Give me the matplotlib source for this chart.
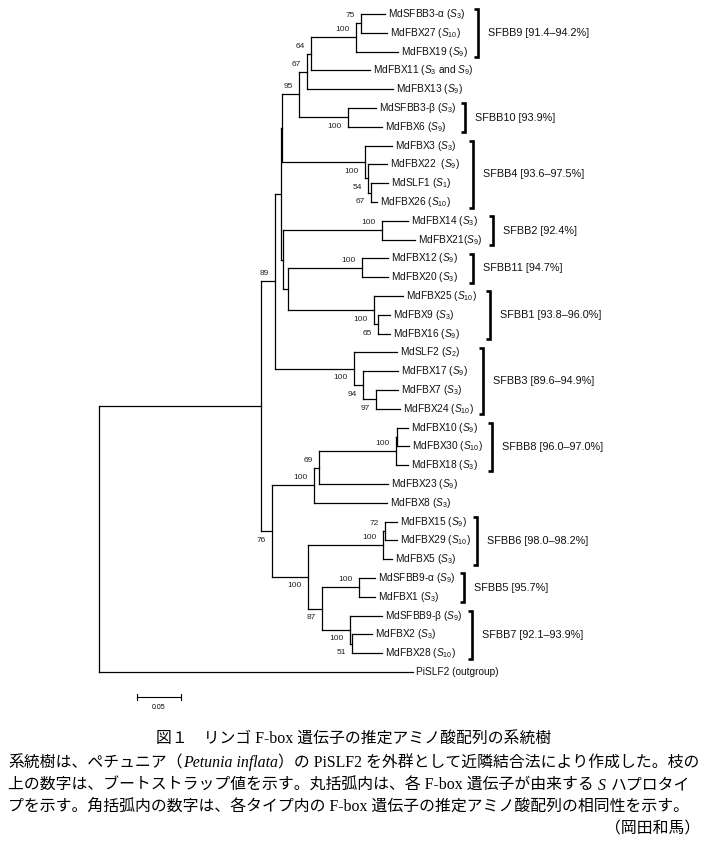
import matplotlib
matplotlib.use('Agg')
import matplotlib.pyplot as plt
from matplotlib.collections import LineCollection

plt.rcParams['font.family'] = ['Liberation Sans', 'DejaVu Sans']
plt.rcParams['mathtext.fontset'] = 'custom'
plt.rcParams['mathtext.rm'] = 'Liberation Sans'
plt.rcParams['mathtext.it'] = 'Liberation Sans:italic'
plt.rcParams['mathtext.bf'] = 'Liberation Sans:bold'

# ===========================
# DATA (tree topology, branch lengths, bootstrap values)
# ===========================

CLADES = {
    'root': ['A', 'PiSLF2'],
    'A': ['B', 'C'],
    'B': ['Q', 'SFBB3'],
    'Q': ['P', 'R'],
    'P': ['N95', 'SFBB4'],
    'N95': ['N67', 'SFBB10'],
    'N67': ['N64', 'MdFBX13'],
    'N64': ['N100', 'MdFBX11'],
    'N100': ['N75', 'MdFBX19'],
    'N75': ['MdSFBB3-α', 'MdFBX27'],
    'SFBB10': ['MdSFBB3-β', 'MdFBX6'],
    'SFBB4': ['MdFBX3', 'n4a'],
    'n4a': ['MdFBX22', 'n4b'],
    'n4b': ['MdSLF1', 'MdFBX26'],
    'R': ['SFBB2', 'S'],
    'SFBB2': ['MdFBX14', 'MdFBX21'],
    'S': ['SFBB11', 'SFBB1'],
    'SFBB11': ['MdFBX12', 'MdFBX20'],
    'SFBB1': ['MdFBX25', 'n1a'],
    'n1a': ['MdFBX9', 'MdFBX16'],
    'SFBB3': ['MdSLF2', 'n3a'],
    'n3a': ['MdFBX17', 'n3b'],
    'n3b': ['MdFBX7', 'MdFBX24'],
    'C': ['D', 'H'],
    'D': ['E', 'MdFBX8'],
    'E': ['SFBB8', 'MdFBX23'],
    'SFBB8': ['n8a', 'MdFBX18'],
    'n8a': ['MdFBX10', 'MdFBX30'],
    'H': ['SFBB6', 'K'],
    'SFBB6': ['n6a', 'MdFBX5'],
    'n6a': ['MdFBX15', 'MdFBX29'],
    'K': ['SFBB5', 'SFBB7'],
    'SFBB5': ['MdSFBB9-α', 'MdFBX1'],
    'SFBB7': ['MdSFBB9-β', 'n7a'],
    'n7a': ['MdFBX2', 'MdFBX28'],
}

BRANCH_LEN = {
    'A': 0.1841, 'PiSLF2': 0.3568, 'B': 0.0159, 'C': 0.0125,
    'Q': 0.0068, 'SFBB3': 0.0898, 'P': 0.0011, 'R': 0.0023,
    'N95': 0.0193, 'SFBB4': 0.0943, 'N67': 0.0091, 'SFBB10': 0.0557,
    'N64': 0.0045, 'MdFBX13': 0.0977, 'N100': 0.0511, 'MdFBX11': 0.0670,
    'N75': 0.0057, 'MdFBX19': 0.0477, 'MdSFBB3-α': 0.0273, 'MdFBX27': 0.0295,
    'MdSFBB3-β': 0.0318, 'MdFBX6': 0.0386,
    'MdFBX3': 0.0307, 'n4a': 0.0034, 'MdFBX22': 0.0216, 'n4b': 0.0034,
    'MdSLF1': 0.0193, 'MdFBX26': 0.0068,
    'SFBB2': 0.1125, 'S': 0.0057, 'MdFBX14': 0.0295, 'MdFBX21': 0.0375,
    'SFBB11': 0.0841, 'SFBB1': 0.0977, 'MdFBX12': 0.0295, 'MdFBX20': 0.0295,
    'MdFBX25': 0.0330, 'n1a': 0.0045, 'MdFBX9': 0.0136, 'MdFBX16': 0.0136,
    'MdSLF2': 0.0489, 'n3a': 0.0102, 'MdFBX17': 0.0398, 'n3b': 0.0148,
    'MdFBX7': 0.0250, 'MdFBX24': 0.0273,
    'D': 0.0477, 'H': 0.0409, 'E': 0.0057, 'MdFBX8': 0.0830,
    'SFBB8': 0.0875, 'MdFBX23': 0.0784, 'n8a': 0.0011, 'MdFBX18': 0.0136,
    'MdFBX10': 0.0125, 'MdFBX30': 0.0136,
    'SFBB6': 0.0852, 'K': 0.0159, 'n6a': 0.0023, 'MdFBX5': 0.0102,
    'MdFBX15': 0.0136, 'MdFBX29': 0.0136,
    'SFBB5': 0.0420, 'SFBB7': 0.0318, 'MdSFBB9-α': 0.0182, 'MdFBX1': 0.0182,
    'MdSFBB9-β': 0.0364, 'n7a': 0.0023, 'MdFBX2': 0.0227, 'MdFBX28': 0.0341,
}

BOOTSTRAP = {
    'N75': 75, 'N100': 100, 'N64': 64, 'N67': 67, 'N95': 95,
    'SFBB10': 100, 'SFBB4': 100, 'n4a': 54, 'n4b': 67,
    'SFBB2': 100, 'SFBB11': 100, 'SFBB1': 100, 'n1a': 65,
    'B': 89, 'SFBB3': 100, 'n3a': 94, 'n3b': 97,
    'SFBB8': 100, 'E': 69, 'D': 100, 'C': 76,
    'H': 100, 'n6a': 72, 'SFBB6': 100, 'SFBB5': 100,
    'K': 87, 'SFBB7': 100, 'n7a': 51,
}

# S haplotypes of each gene
HAPLOTYPE = {
    'MdSFBB3-α': ['3'], 'MdFBX27': ['10'], 'MdFBX19': ['9'],
    'MdFBX11': ['3', '9'], 'MdFBX13': ['9'], 'MdSFBB3-β': ['3'],
    'MdFBX6': ['9'], 'MdFBX3': ['3'], 'MdFBX22': ['9'], 'MdSLF1': ['1'],
    'MdFBX26': ['10'], 'MdFBX14': ['3'], 'MdFBX21': ['9'], 'MdFBX12': ['9'],
    'MdFBX20': ['3'], 'MdFBX25': ['10'], 'MdFBX9': ['3'], 'MdFBX16': ['9'],
    'MdSLF2': ['2'], 'MdFBX17': ['9'], 'MdFBX7': ['3'], 'MdFBX24': ['10'],
    'MdFBX10': ['9'], 'MdFBX30': ['10'], 'MdFBX18': ['3'], 'MdFBX23': ['9'],
    'MdFBX8': ['3'], 'MdFBX15': ['9'], 'MdFBX29': ['10'], 'MdFBX5': ['3'],
    'MdSFBB9-α': ['9'], 'MdFBX1': ['3'], 'MdSFBB9-β': ['9'], 'MdFBX2': ['3'],
    'MdFBX28': ['10'],
}

GROUP_NAMES = ['SFBB9', 'SFBB10', 'SFBB4', 'SFBB2', 'SFBB11', 'SFBB1',
               'SFBB3', 'SFBB8', 'SFBB6', 'SFBB5', 'SFBB7']
GROUP_IDENTITY = ['91.4–94.2%', '93.9%', '93.6–97.5%', '92.4%', '94.7%',
                  '93.8–96.0%', '89.6–94.9%', '96.0–97.0%', '98.0–98.2%',
                  '95.7%', '92.1–93.9%']
GROUP_LEAVES = [('MdSFBB3-α', 'MdFBX19'), ('MdSFBB3-β', 'MdFBX6'),
                ('MdFBX3', 'MdFBX26'), ('MdFBX14', 'MdFBX21'),
                ('MdFBX12', 'MdFBX20'), ('MdFBX25', 'MdFBX16'),
                ('MdSLF2', 'MdFBX24'), ('MdFBX10', 'MdFBX18'),
                ('MdFBX15', 'MdFBX5'), ('MdSFBB9-α', 'MdFBX1'),
                ('MdSFBB9-β', 'MdFBX28')]

SCALE_LEN = 0.05

TITLE = '図１　リンゴ F-box 遺伝子の推定アミノ酸配列の系統樹'
CAPTION = [
    [('系統樹は、ペチュニア（', False), ('Petunia inflata', True),
     ('）の PiSLF2 を外群として近隣結合法により作成した。枝の', False)],
    [('上の数字は、ブートストラップ値を示す。丸括弧内は、各 F-box 遺伝子が由来する ', False),
     ('S', True), (' ハプロタイ', False)],
    [('プを示す。角括弧内の数字は、各タイプ内の F-box 遺伝子の推定アミノ酸配列の相同性を示す。', False)],
]
AUTHOR = '（岡田和馬）'

# ===========================
# LAYOUT
# ===========================

W, H = 705, 844
PX_PER_UNIT = 880          # 0.05 -> 44 px
ROOT_PX = 99
LEAF_TOP_PX, LEAF_STEP_PX = 14, 18.8
BRACKET_PX = [478, 465, 473, 493, 473, 490, 483, 492, 477, 464, 472]
BOOT_BELOW = {'SFBB10', 'SFBB4', 'n4a', 'n4b', 'SFBB1', 'n1a', 'SFBB3',
              'n3a', 'n3b', 'C', 'H', 'K', 'SFBB7', 'n7a'}
LABEL_SEP = {'MdFBX22': '  ', 'MdFBX21': ''}
CJK = ['Liberation Serif', 'Noto Sans CJK JP']

xpos, ypos, leaf_order = {}, {}, []


def layout(node, x):
    xpos[node] = x
    if node in CLADES:
        kids = CLADES[node]
        for k in kids:
            layout(k, x + BRANCH_LEN[k])
        ypos[node] = (ypos[kids[0]] + ypos[kids[-1]]) / 2
    else:
        ypos[node] = len(leaf_order)
        leaf_order.append(node)


layout('root', 0.0)

fig = plt.figure(figsize=(W / 100, H / 100), dpi=100)
ax = fig.add_axes([0, 0, 1, 1])
ax.set_xlim(-ROOT_PX / PX_PER_UNIT, (W - ROOT_PX) / PX_PER_UNIT)
ax.set_ylim((H - LEAF_TOP_PX) / LEAF_STEP_PX, -LEAF_TOP_PX / LEAF_STEP_PX)
ax.axis('off')

# branches
segs = []
for node, kids in CLADES.items():
    segs.append([(xpos[node], ypos[kids[0]]), (xpos[node], ypos[kids[-1]])])
    for k in kids:
        segs.append([(xpos[node], ypos[k]), (xpos[k], ypos[k])])
ax.add_collection(LineCollection(segs, colors='black', linewidths=0.9,
                                 capstyle='projecting'))

# leaf labels
for leaf in leaf_order:
    if leaf in HAPLOTYPE:
        hap = ' and '.join(f'$S_{{{s}}}$' for s in HAPLOTYPE[leaf])
        txt = f'{leaf}{LABEL_SEP.get(leaf, " ")}({hap})'
    else:
        txt = f'{leaf} (outgroup)'
    ax.annotate(txt, (xpos[leaf], ypos[leaf]), xytext=(2.2, 0),
                textcoords='offset points', ha='left', va='center',
                fontsize=7.3, color='#111')

# bootstrap values
for node, val in BOOTSTRAP.items():
    dy = -6.5 if node in BOOT_BELOW else 5.4
    ax.annotate(str(val), (xpos[node], ypos[node]), xytext=(-4.3, dy),
                textcoords='offset points', ha='right', va='center',
                fontsize=6, color='#222')

# group brackets
tick = 4 / PX_PER_UNIT
for name, ident, (a, b), bx in zip(GROUP_NAMES, GROUP_IDENTITY,
                                   GROUP_LEAVES, BRACKET_PX):
    x = (bx - ROOT_PX) / PX_PER_UNIT
    y0, y1 = ypos[a] - 0.25, ypos[b] + 0.3
    ax.plot([x - tick, x, x, x - tick], [y0, y0, y1, y1], color='black',
            lw=1.9, solid_joinstyle='miter', solid_capstyle='butt')
    ax.text(x + 10 / PX_PER_UNIT, (y0 + y1) / 2, f'{name} [{ident}]',
            ha='left', va='center', fontsize=7.8, color='#111')

# scale bar
sy = (697 - LEAF_TOP_PX) / LEAF_STEP_PX
sx0 = (137 - ROOT_PX) / PX_PER_UNIT
ax.plot([sx0, sx0 + SCALE_LEN], [sy, sy], color='black', lw=0.8)
for xx in (sx0, sx0 + SCALE_LEN):
    ax.plot([xx, xx], [sy - 0.15, sy + 0.15], color='black', lw=0.8)
ax.text(sx0 + SCALE_LEN / 2, sy + 0.55, f'{SCALE_LEN}', ha='center',
        va='center', fontsize=5)

# caption
renderer = fig.canvas.get_renderer()
CAP_SIZE = 11.4
gap = CAP_SIZE * 0.28 * 100 / 72


def draw_runs(x_px, y_px, runs):
    x = x_px
    for txt, italic in runs:
        if txt.startswith(' '):
            x += gap
        t = fig.text(x / W, 1 - y_px / H, txt.strip(), family=CJK,
                     style='italic' if italic else 'normal',
                     fontsize=CAP_SIZE, ha='left', va='center')
        x += t.get_window_extent(renderer).width
        if txt.endswith(' '):
            x += gap


fig.text(0.502, 1 - 740 / H, TITLE, family=CJK, fontsize=CAP_SIZE,
         ha='center', va='center')
for i, runs in enumerate(CAPTION):
    draw_runs(8, 763 + i * 22.5, runs)
fig.text(700 / W, 1 - 829 / H, AUTHOR, family=CJK, fontsize=CAP_SIZE,
         ha='right', va='center')

fig.savefig('out.png', dpi=100, facecolor='white')
